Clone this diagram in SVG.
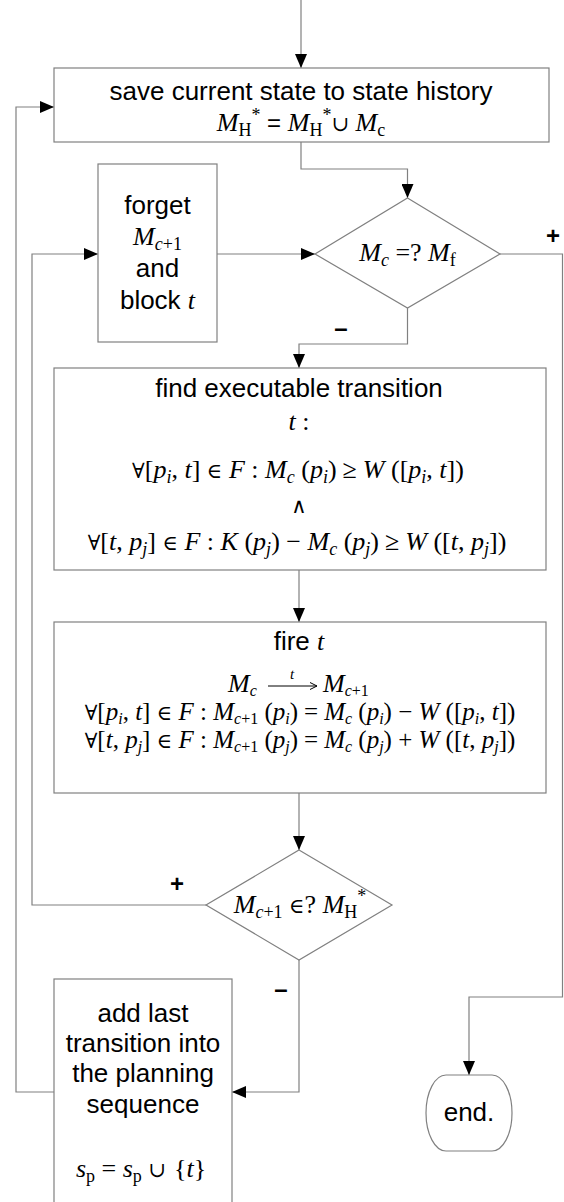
<svg xmlns="http://www.w3.org/2000/svg" width="564" height="1202" viewBox="0 0 564 1202">
<defs>
<marker id="ah" markerUnits="userSpaceOnUse" markerWidth="14" markerHeight="12" refX="14" refY="6" orient="auto"><path d="M0,0 L14,6 L0,12 z" fill="#000"/></marker>
<style>
.box{fill:#fff;stroke:#808080;stroke-width:1.2}
.ln{fill:none;stroke:#808080;stroke-width:1.2}
.s{font-family:"Liberation Sans",Arial,sans-serif;font-size:26px;text-anchor:middle;fill:#000}
.m{font-family:"Liberation Serif","Times New Roman",serif;font-size:26px;text-anchor:middle;fill:#000}
.m2{font-size:25px}
.ms{font-family:"Liberation Sans",Arial,sans-serif;font-size:24px}
.y{font-family:"DejaVu Serif","Liberation Serif",serif;font-size:21px}
.i{font-style:italic}
.b{font-size:18px}
.c{font-size:16px}
.lbl{font-family:"Liberation Sans",Arial,sans-serif;font-size:24px;font-weight:bold;text-anchor:middle;fill:#000}
</style>
</defs>
<rect width="564" height="1202" fill="#fff"/>
<g id="connectors">
<path class="ln" d="M301,0 V68" marker-end="url(#ah)"/>
<path class="ln" d="M301,142 V169 H407.5 V198" marker-end="url(#ah)"/>
<path class="ln" d="M217,254 H315" marker-end="url(#ah)"/>
<path class="ln" d="M407.5,308 V344 H299 V368" marker-end="url(#ah)"/>
<path class="ln" d="M299,570 V622" marker-end="url(#ah)"/>
<path class="ln" d="M299,793 V850" marker-end="url(#ah)"/>
<path class="ln" d="M299,960 V1092 H232" marker-end="url(#ah)"/>
<path class="ln" d="M206,905 H32 V254 H98" marker-end="url(#ah)"/>
<path class="ln" d="M54,1092 H16 V107 H54" marker-end="url(#ah)"/>
<path class="ln" d="M500,254 H562.5 V997 H469 V1075" marker-end="url(#ah)"/>
<text class="lbl" x="553" y="244">+</text>
<text class="lbl" x="341" y="336">–</text>
<text class="lbl" x="177" y="892">+</text>
<text class="lbl" x="281" y="997">–</text>
</g>
<g id="save">
<rect class="box" x="54" y="68" width="495" height="74"/>
<text class="s" x="301" y="100">save current state to state history</text>
<text class="m" x="301" y="131"><tspan class="i">M</tspan><tspan class="b" dy="5">H</tspan><tspan class="b" dy="-15">*</tspan><tspan class="ms" dy="10"> = </tspan><tspan class="i">M</tspan><tspan class="b" dy="5">H</tspan><tspan class="b" dy="-15">*</tspan><tspan class="y" dy="10">∪</tspan> <tspan class="i">M</tspan><tspan class="b" dy="5">c</tspan></text>
</g>
<g id="forget">
<rect class="box" x="98" y="164" width="119" height="178"/>
<text class="s" x="157.5" y="214">forget</text>
<text class="m" x="157.5" y="245"><tspan class="i">M</tspan><tspan class="b" dy="5"><tspan class="i">c</tspan>+1</tspan></text>
<text class="s" x="157.5" y="277">and</text>
<text class="s" x="157.5" y="309">block <tspan class="m i">t</tspan></text>
</g>
<g id="goal">
<polygon class="box" points="407.5,198 500,254 407.5,308 315,254"/>
<text class="m" x="407.5" y="261"><tspan class="i">M</tspan><tspan class="b i" dy="5">c</tspan><tspan dy="-5"> =? </tspan><tspan class="i">M</tspan><tspan class="b" dy="5">f</tspan></text>
</g>
<g id="find">
<rect class="box" x="54" y="368" width="492" height="202"/>
<text class="s" x="299" y="397">find executable transition</text>
<text class="m" x="299" y="430"><tspan class="i">t</tspan> :</text>
<text class="m" x="298" y="478"><tspan class="y">∀</tspan>[<tspan class="i">p</tspan><tspan class="b i" dy="5">i</tspan><tspan dy="-5">, </tspan><tspan class="i">t</tspan>] <tspan class="y">∈</tspan> <tspan class="i">F</tspan> : <tspan class="i">M</tspan><tspan class="b i" dy="5">c</tspan><tspan dy="-5"> (</tspan><tspan class="i">p</tspan><tspan class="b i" dy="5">i</tspan><tspan dy="-5">)</tspan><tspan dx="6">≥</tspan><tspan dx="6" class="i">W</tspan> ([<tspan class="i">p</tspan><tspan class="b i" dy="5">i</tspan><tspan dy="-5">, </tspan><tspan class="i">t</tspan>])</text>
<text class="m y" x="299" y="513">∧</text>
<text class="m" x="297" y="550"><tspan class="y">∀</tspan>[<tspan class="i">t</tspan>, <tspan class="i">p</tspan><tspan class="b i" dy="5">j</tspan><tspan dy="-5">] </tspan><tspan class="y">∈</tspan> <tspan class="i">F</tspan> : <tspan class="i">K</tspan> (<tspan class="i">p</tspan><tspan class="b i" dy="5">j</tspan><tspan dy="-5">) − </tspan><tspan class="i">M</tspan><tspan class="b i" dy="5">c</tspan><tspan dy="-5"> (</tspan><tspan class="i">p</tspan><tspan class="b i" dy="5">j</tspan><tspan dy="-5">)</tspan><tspan dx="6">≥</tspan><tspan dx="6" class="i">W</tspan> ([<tspan class="i">t</tspan>, <tspan class="i">p</tspan><tspan class="b i" dy="5">j</tspan><tspan dy="-5">])</tspan></text>
</g>
<g id="fire">
<rect class="box" x="54" y="622" width="492" height="171"/>
<text class="s" x="299" y="650">fire <tspan class="m i">t</tspan></text>
<text class="m" x="228" y="692" style="text-anchor:start"><tspan class="i">M</tspan><tspan class="c i" dy="4">c</tspan></text>
<path d="M268,686 H317 M310,682.5 L317,686 L310,689.5" fill="none" stroke="#000" stroke-width="1"/>
<text class="m i" x="292" y="679" style="font-size:15px">t</text>
<text class="m" x="323" y="692" style="text-anchor:start"><tspan class="i">M</tspan><tspan class="c" dy="4"><tspan class="i">c</tspan>+1</tspan></text>
<text class="m m2" x="300" y="720"><tspan class="y">∀</tspan>[<tspan class="i">p</tspan><tspan class="c i" dy="4">i</tspan><tspan dy="-4">, </tspan><tspan class="i">t</tspan>] <tspan class="y">∈</tspan> <tspan class="i">F</tspan> : <tspan class="i">M</tspan><tspan class="c" dy="4"><tspan class="i">c</tspan>+1</tspan><tspan dy="-4"> (</tspan><tspan class="i">p</tspan><tspan class="c i" dy="4">i</tspan><tspan dy="-4">)</tspan><tspan dx="6">=</tspan><tspan dx="6" class="i">M</tspan><tspan class="c i" dy="4">c</tspan><tspan dy="-4"> (</tspan><tspan class="i">p</tspan><tspan class="c i" dy="4">i</tspan><tspan dy="-4">) − </tspan><tspan class="i">W</tspan> ([<tspan class="i">p</tspan><tspan class="c i" dy="4">i</tspan><tspan dy="-4">, </tspan><tspan class="i">t</tspan>])</text>
<text class="m m2" x="300" y="748"><tspan class="y">∀</tspan>[<tspan class="i">t</tspan>, <tspan class="i">p</tspan><tspan class="c i" dy="4">j</tspan><tspan dy="-4">] </tspan><tspan class="y">∈</tspan> <tspan class="i">F</tspan> : <tspan class="i">M</tspan><tspan class="c" dy="4"><tspan class="i">c</tspan>+1</tspan><tspan dy="-4"> (</tspan><tspan class="i">p</tspan><tspan class="c i" dy="4">j</tspan><tspan dy="-4">)</tspan><tspan dx="6">=</tspan><tspan dx="6" class="i">M</tspan><tspan class="c i" dy="4">c</tspan><tspan dy="-4"> (</tspan><tspan class="i">p</tspan><tspan class="c i" dy="4">j</tspan><tspan dy="-4">) + </tspan><tspan class="i">W</tspan> ([<tspan class="i">t</tspan>, <tspan class="i">p</tspan><tspan class="c i" dy="4">j</tspan><tspan dy="-4">])</tspan></text>
</g>
<g id="visited">
<polygon class="box" points="299,850 392,905 299,960 206,905"/>
<text class="m" x="300" y="913"><tspan class="i">M</tspan><tspan class="b" dy="5"><tspan class="i">c</tspan>+1</tspan><tspan dy="-5"> </tspan><tspan class="y">∈</tspan>? <tspan class="i">M</tspan><tspan class="b" dy="5">H</tspan><tspan class="b" dy="-16">*</tspan></text>
</g>
<g id="add">
<rect class="box" x="54" y="979" width="178" height="240"/>
<text class="s" x="143" y="1022">add last</text>
<text class="s" x="143" y="1052">transition into</text>
<text class="s" x="143" y="1082">the planning</text>
<text class="s" x="143" y="1113">sequence</text>
<text class="m" x="141" y="1177"><tspan class="i">s</tspan><tspan class="b" dy="5">p</tspan><tspan dy="-5"> = </tspan><tspan class="i">s</tspan><tspan class="b" dy="5">p</tspan><tspan dy="-5"> </tspan><tspan class="y">∪</tspan><tspan dx="8">{</tspan><tspan class="i">t</tspan>}</text>
</g>
<g id="end">
<rect class="box" x="426" y="1075" width="86" height="76" rx="20" ry="38"/>
<text class="s" x="469" y="1121">end.</text>
</g>
</svg>
